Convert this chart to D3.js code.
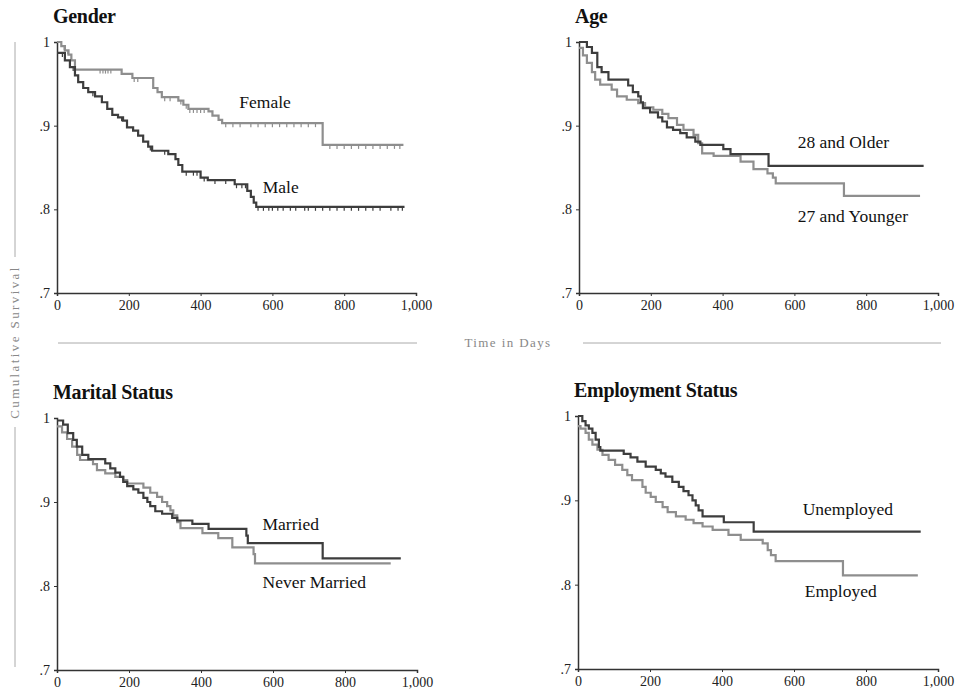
<!DOCTYPE html>
<html>
<head>
<meta charset="utf-8">
<script src="https://cdn.jsdelivr.net/npm/d3@7"></script>
<style>
  body { margin: 0; background: #fff; }
  svg { display: block; }
</style>
</head>
<body>
<script>
// survival step data: [day, cumulative survival]
var female = [[0,1],[12,.995],[22,.99],[32,.985],[40,.978],[50,.967],[180,.962],[210,.957],[268,.945],[280,.94],[292,.934],[338,.93],[352,.925],[366,.92],[422,.917],[433,.912],[450,.907],[460,.903],[740,.877],[965,.877]];
var male = [[0,.987],[22,.978],[36,.97],[50,.96],[59,.952],[73,.945],[87,.94],[106,.935],[125,.928],[140,.92],[154,.913],[170,.91],[184,.906],[195,.898],[212,.894],[226,.888],[240,.881],[254,.875],[265,.87],[310,.866],[330,.86],[338,.853],[349,.845],[400,.838],[420,.835],[495,.83],[530,.822],[540,.815],[548,.808],[555,.803],[968,.803]];
var femaleCensor = [20,30,120,128,135,142,150,215,225,300,315,345,360,370,380,390,400,410,470,490,510,540,560,580,600,620,640,660,680,700,720,760,780,800,820,840,860,880,900,920,940,955];
var maleCensor = [15,45,100,180,260,300,360,380,390,410,440,470,500,515,525,560,575,590,600,615,630,650,665,690,700,720,740,760,780,800,820,840,860,880,900,930,950,962];

var older = [[0,1],[22,.994],[36,.987],[51,.97],[63,.964],[82,.955],[137,.948],[150,.94],[165,.935],[172,.928],[178,.921],[198,.916],[220,.91],[232,.905],[245,.898],[262,.895],[282,.891],[300,.886],[324,.881],[338,.877],[402,.872],[422,.866],[528,.852],[960,.852]];
var younger = [[0,.993],[11,.984],[22,.975],[36,.964],[45,.955],[59,.949],[91,.943],[106,.935],[133,.931],[165,.927],[184,.922],[207,.919],[232,.914],[249,.909],[273,.901],[291,.895],[319,.889],[332,.879],[343,.867],[375,.864],[450,.857],[486,.848],[525,.843],[540,.838],[548,.831],[738,.816],[950,.816]];

var married = [[0,.997],[17,.992],[30,.982],[45,.974],[55,.966],[70,.956],[87,.951],[134,.946],[148,.94],[162,.935],[175,.93],[184,.924],[195,.919],[212,.915],[226,.911],[240,.905],[251,.9],[259,.895],[273,.889],[292,.886],[320,.881],[334,.878],[376,.874],[421,.868],[526,.86],[530,.851],[738,.833],[955,.833]];
var neverMarried = [[0,.99],[14,.983],[28,.975],[42,.966],[56,.956],[64,.95],[100,.945],[111,.938],[134,.934],[162,.93],[184,.926],[195,.922],[240,.917],[259,.911],[278,.906],[292,.9],[306,.895],[315,.89],[323,.884],[334,.876],[343,.869],[404,.863],[448,.857],[487,.846],[546,.838],[550,.827],[927,.827]];

var unemployed = [[0,1],[12,.994],[21,.989],[30,.985],[40,.98],[49,.972],[58,.963],[62,.959],[127,.955],[146,.951],[165,.946],[188,.94],[216,.936],[230,.932],[243,.928],[262,.922],[280,.916],[293,.911],[307,.906],[318,.9],[327,.894],[335,.888],[346,.881],[405,.874],[488,.863],[952,.863]];
var employed = [[0,.988],[7,.985],[21,.98],[30,.972],[40,.966],[54,.96],[68,.954],[85,.948],[103,.942],[123,.936],[137,.93],[150,.924],[179,.916],[188,.909],[202,.904],[216,.898],[235,.892],[249,.886],[272,.881],[299,.877],[321,.873],[346,.869],[374,.865],[418,.859],[452,.853],[513,.849],[527,.841],[536,.835],[549,.828],[736,.811],[944,.811]];

var titles = ["Gender", "Age", "Marital Status", "Employment Status"];
var xTicks = [0, 200, 400, 600, 800, 1000];
var yTicks = [.7, .8, .9, 1];

var width = 958, height = 693;
var dark = "#3d3d3d", light = "#8e8e8e";
var serif = '"Liberation Serif", "DejaVu Serif", serif';

var panels = [
  { title: titles[0], x0: 57, x1: 416, y0: 42, y1: 293,
    series: [{ data: female, color: light, censor: femaleCensor }, { data: male, color: dark, censor: maleCensor }],
    labels: [{ text: "Female", d: 508, v: .921 }, { text: "Male", d: 573, v: .82 }] },
  { title: titles[1], x0: 579, x1: 938, y0: 42, y1: 293,
    series: [{ data: younger, color: light }, { data: older, color: dark }],
    labels: [{ text: "28 and Older", d: 609, v: .873 }, { text: "27 and Younger", d: 609, v: .785 }] },
  { title: titles[2], x0: 57, x1: 417, y0: 418, y1: 670,
    series: [{ data: neverMarried, color: light }, { data: married, color: dark }],
    labels: [{ text: "Married", d: 571, v: .867 }, { text: "Never Married", d: 571, v: .798 }] },
  { title: titles[3], x0: 578, x1: 938, y0: 416, y1: 669,
    series: [{ data: employed, color: light }, { data: unemployed, color: dark }],
    labels: [{ text: "Unemployed", d: 624, v: .883 }, { text: "Employed", d: 630, v: .785 }] }
];

var svg = d3.select("body").append("svg")
  .attr("width", width)
  .attr("height", height);

// shared axis titles with the gray rules
var guide = svg.append("g").attr("class", "guide");
guide.append("line").attr("x1", 15).attr("x2", 15).attr("y1", 42).attr("y2", 257)
  .attr("stroke", "#aaa").attr("stroke-width", 1);
guide.append("line").attr("x1", 15).attr("x2", 15).attr("y1", 427).attr("y2", 667)
  .attr("stroke", "#aaa").attr("stroke-width", 1);
guide.append("text")
  .attr("transform", "translate(19,342) rotate(-90)")
  .attr("text-anchor", "middle")
  .attr("font-family", serif)
  .attr("font-size", 13)
  .attr("letter-spacing", 2.4)
  .attr("fill", "#888")
  .text("Cumulative Survival");
guide.append("line").attr("x1", 58).attr("x2", 417).attr("y1", 343).attr("y2", 343)
  .attr("stroke", "#aaa").attr("stroke-width", 1);
guide.append("line").attr("x1", 583).attr("x2", 941).attr("y1", 343).attr("y2", 343)
  .attr("stroke", "#aaa").attr("stroke-width", 1);
guide.append("text")
  .attr("x", 508).attr("y", 347)
  .attr("text-anchor", "middle")
  .attr("font-family", serif)
  .attr("font-size", 13)
  .attr("letter-spacing", 1.4)
  .attr("fill", "#888")
  .text("Time in Days");

var fmtX = d3.format(",");
function fmtY(d) { return d == 1 ? "1" : d3.format(".1f")(d).replace(/^0/, ""); }

function stepAt(data, day) {
  var v = data[0][1];
  data.forEach(function(p) { if (p[0] <= day) v = p[1]; });
  return v;
}

panels.forEach(function(p) {
  var x = d3.scaleLinear().domain([0, 1000]).range([p.x0, p.x1]);
  var y = d3.scaleLinear().domain([.7, 1]).range([p.y1, p.y0]);
  var g = svg.append("g").attr("class", "panel");

  g.append("text")
    .attr("x", p.x0 - 4).attr("y", p.y0 - 19)
    .attr("font-family", serif)
    .attr("font-weight", "bold")
    .attr("font-size", 20)
    .attr("letter-spacing", -0.3)
    .attr("fill", "#111")
    .text(p.title);

  var xa = g.append("g")
    .attr("transform", "translate(0," + p.y1 + ")")
    .call(d3.axisBottom(x).tickValues(xTicks).tickFormat(fmtX).tickSizeOuter(0).tickSize(3));
  var ya = g.append("g")
    .attr("transform", "translate(" + p.x0 + ",0)")
    .call(d3.axisLeft(y).tickValues(yTicks).tickFormat(fmtY).tickSizeOuter(0).tickSize(3));
  [xa, ya].forEach(function(a) {
    a.attr("font-family", serif).attr("font-size", 14);
    a.select(".domain").attr("stroke", "#333").attr("stroke-width", 1.5);
    a.selectAll(".tick line").attr("stroke", "#333");
    a.selectAll(".tick text").attr("fill", "#222");
  });
  xa.selectAll(".tick text").attr("dy", "0.8em");
  ya.selectAll(".tick text").attr("x", -7);

  var line = d3.line()
    .curve(d3.curveStepAfter)
    .x(function(d) { return x(d[0]); })
    .y(function(d) { return y(d[1]); });

  p.series.forEach(function(s) {
    g.append("path")
      .datum(s.data)
      .attr("fill", "none")
      .attr("stroke", s.color)
      .attr("stroke-width", 2.2)
      .attr("d", line);
    if (s.censor) {
      g.selectAll(null)
        .data(s.censor)
        .enter().append("line")
          .attr("x1", function(d) { return x(d); })
          .attr("x2", function(d) { return x(d); })
          .attr("y1", function(d) { return y(stepAt(s.data, d)); })
          .attr("y2", function(d) { return y(stepAt(s.data, d)) + 4; })
          .attr("stroke", s.color)
          .attr("stroke-width", 1.2);
    }
  });

  g.selectAll(null)
    .data(p.labels)
    .enter().append("text")
      .attr("x", function(d) { return x(d.d); })
      .attr("y", function(d) { return y(d.v); })
      .attr("font-family", serif)
      .attr("font-size", 17.5)
      .attr("fill", "#111")
      .text(function(d) { return d.text; });
});
</script>
</body>
</html>
